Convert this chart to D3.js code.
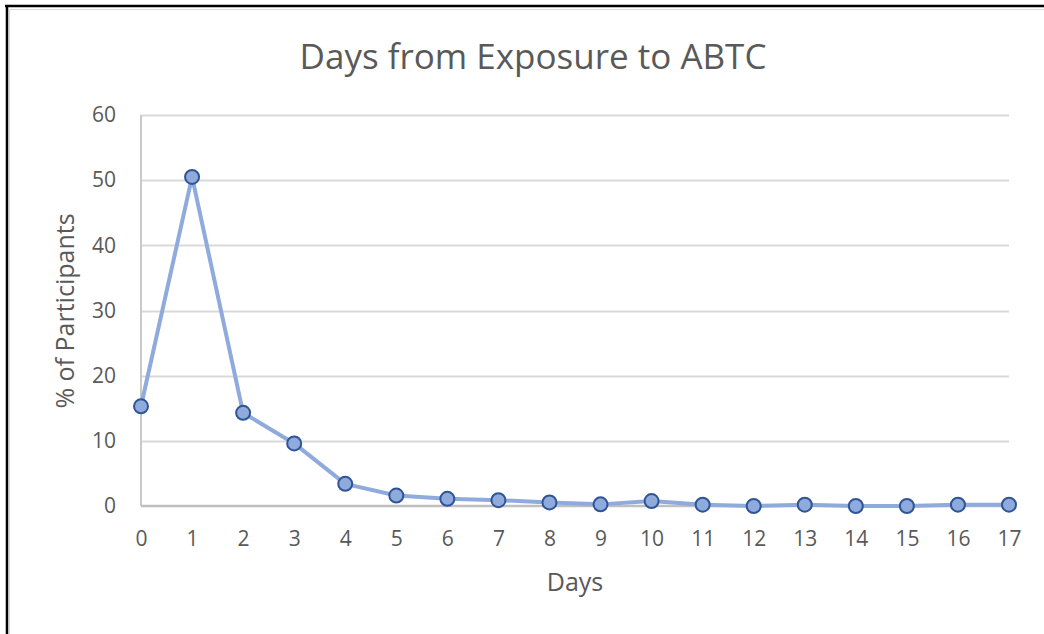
<!DOCTYPE html>
<html>
<head>
<meta charset="utf-8">
<script src="https://cdn.jsdelivr.net/npm/d3@7"></script>
<style>
  html, body { margin: 0; padding: 0; background: #fff; }
  svg { display: block; }
  text { font-family: "Open Sans", "Liberation Sans", sans-serif; fill: #595959; }
</style>
</head>
<body>
<svg id="chart" width="1044" height="634"></svg>
<script>
const days = [0,1,2,3,4,5,6,7,8,9,10,11,12,13,14,15,16,17];
const percentParticipants = [15.3,50.5,14.3,9.6,3.4,1.6,1.1,0.9,0.55,0.25,0.75,0.2,0.0,0.2,0.0,0.0,0.2,0.2];
const yTicks = [0,10,20,30,40,50,60];
const chartTitle = "Days from Exposure to ABTC";
const xLabel = "Days";
const yLabel = "% of Participants";

const svg = d3.select("#chart");
const W = 1044, H = 634;

// outer frame
svg.append("rect").attr("x", 9.5).attr("y", 9.5).attr("width", W).attr("height", H)
  .attr("fill", "none").attr("stroke", "#d9d9d9").attr("stroke-width", 1);
svg.append("line").attr("x1", 7).attr("x2", 7).attr("y1", 5).attr("y2", H).attr("stroke", "#000").attr("stroke-width", 2.5);
svg.append("line").attr("x1", 5).attr("x2", W).attr("y1", 6).attr("y2", 6).attr("stroke", "#000").attr("stroke-width", 2.5);

const x = d3.scaleLinear().domain([0, 17]).range([141, 1009]);
const y = d3.scaleLinear().domain([0, 60]).range([506, 115]);

// gridlines
svg.append("g").selectAll("line").data(yTicks.filter(d => d > 0)).join("line")
  .attr("x1", x(0)).attr("x2", x(17))
  .attr("y1", d => Math.round(y(d)) + 0.5).attr("y2", d => Math.round(y(d)) + 0.5)
  .attr("stroke", "#d9d9d9").attr("stroke-width", 2);

// y axis line
svg.append("line").attr("x1", x(0)).attr("x2", x(0)).attr("y1", y(60)).attr("y2", y(0))
  .attr("stroke", "#c9c9c9").attr("stroke-width", 2);
// x axis line
svg.append("line").attr("x1", x(0)).attr("x2", x(17)).attr("y1", y(0)).attr("y2", y(0))
  .attr("stroke", "#bfbfbf").attr("stroke-width", 2.5);

// y tick labels
const yAxis = d3.axisLeft(y).tickValues(yTicks).tickSize(0).tickPadding(25);
const gy = svg.append("g").attr("transform", `translate(${x(0)},0)`).call(yAxis);
gy.select(".domain").remove();
gy.selectAll("text").style("font-size", "21px").attr("fill", "#595959")
  .style("font-family", "'Open Sans', sans-serif");

// x tick labels
const xAxis = d3.axisBottom(x).tickValues(days).tickFormat(d3.format("d")).tickSize(0).tickPadding(25);
const gx = svg.append("g").attr("transform", `translate(0,${y(0)})`).call(xAxis);
gx.select(".domain").remove();
gx.selectAll("text").style("font-size", "21px").attr("fill", "#595959")
  .style("font-family", "'Open Sans', sans-serif");

// line
const line = d3.line().x((d, i) => x(days[i])).y(d => y(d));
svg.append("path").datum(percentParticipants).attr("d", line)
  .attr("fill", "none").attr("stroke", "#8faadc").attr("stroke-width", 4)
  .attr("stroke-linejoin", "round");

// markers
svg.append("g").selectAll("circle").data(percentParticipants).join("circle")
  .attr("cx", (d, i) => x(days[i])).attr("cy", d => y(d)).attr("r", 7)
  .attr("fill", "#8faadc").attr("stroke", "#2f5597").attr("stroke-width", 2);

// title
svg.append("text").attr("x", 533).attr("y", 69).attr("text-anchor", "middle")
  .style("font-size", "35px").text(chartTitle);

// axis titles
svg.append("text").attr("x", 575).attr("y", 591).attr("text-anchor", "middle")
  .style("font-size", "25px").text(xLabel);
svg.append("text").attr("transform", "translate(74,311) rotate(-90)").attr("text-anchor", "middle")
  .style("font-size", "25px").text(yLabel);
</script>
</body>
</html>
